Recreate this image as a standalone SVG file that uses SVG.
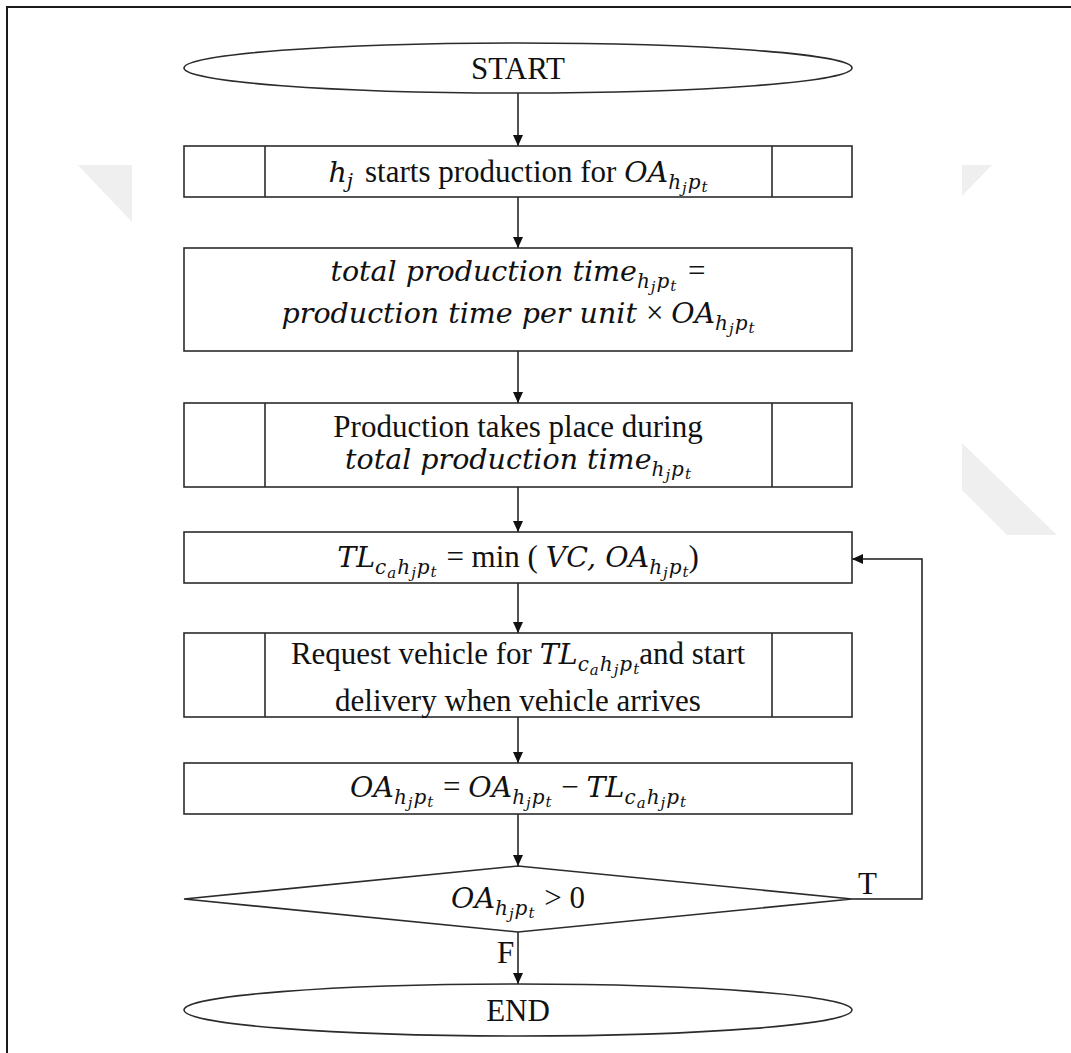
<svg xmlns="http://www.w3.org/2000/svg" width="1071" height="1053" viewBox="0 0 1071 1053">
  <defs>
    <marker id="arrow" markerUnits="userSpaceOnUse" markerWidth="12" markerHeight="10" refX="11" refY="5" orient="auto">
      <path d="M0,0 L11,5 L0,10 z" fill="#111"/>
    </marker>
    <style>
      .frame{fill:none;stroke:#1a1a1a;stroke-width:2}
      .wm{fill:#efefef}
      .shape{fill:#fff;stroke:#2b2b2b;stroke-width:1.6}
      .div{stroke:#2b2b2b;stroke-width:1.6}
      .edge{fill:none;stroke:#1a1a1a;stroke-width:1.5}
      text{font-family:"Liberation Serif","Times New Roman",serif;font-size:31px;fill:#111;text-anchor:middle}
      .lbl{text-anchor:start}
      .mi{font-family:"DejaVu Serif",serif;font-style:italic;font-size:28.5px}
      .s1{font-size:20px}
      .s2{font-size:15px}
    </style>
  </defs>

  <rect width="1071" height="1053" fill="#fff"/>
  <!-- page frame (left and top edges) -->
  <path class="frame" d="M7,1053 V7 H1071"/>

  <!-- faint background marks -->
  <polygon class="wm" points="78,165 132,165 132,222"/>
  <polygon class="wm" points="962,165 992,165 962,196"/>
  <polygon class="wm" points="962,443 1057,535 1007,535 962,490"/>

  <!-- connectors -->
  <g id="connectors">
    <line class="edge" x1="518" y1="93" x2="518" y2="146" marker-end="url(#arrow)"/>
    <line class="edge" x1="518" y1="197" x2="518" y2="248" marker-end="url(#arrow)"/>
    <line class="edge" x1="518" y1="351" x2="518" y2="403" marker-end="url(#arrow)"/>
    <line class="edge" x1="518" y1="487" x2="518" y2="532" marker-end="url(#arrow)"/>
    <line class="edge" x1="518" y1="583" x2="518" y2="633" marker-end="url(#arrow)"/>
    <line class="edge" x1="518" y1="717" x2="518" y2="763" marker-end="url(#arrow)"/>
    <line class="edge" x1="518" y1="814" x2="518" y2="866" marker-end="url(#arrow)"/>
    <line class="edge" x1="518" y1="932" x2="518" y2="984" marker-end="url(#arrow)"/>
    <polyline class="edge" points="852,899 922,899 922,559 852,559" marker-end="url(#arrow)"/>
    <text class="lbl" x="858" y="894">T</text>
    <text class="lbl" x="497" y="963">F</text>
  </g>

  <g id="start">
    <ellipse class="shape" cx="518" cy="68" rx="334" ry="25"/>
    <text x="518" y="79">START</text>
  </g>

  <g id="begin-production">
    <rect class="shape" x="184" y="146" width="668" height="51"/>
    <line class="div" x1="265" y1="146" x2="265" y2="197"/>
    <line class="div" x1="772" y1="146" x2="772" y2="197"/>
    <text x="518" y="182"><tspan class="mi">h</tspan><tspan class="mi s1" dy="6">j</tspan><tspan dx="12" dy="-6">starts production for </tspan><tspan class="mi">OA</tspan><tspan class="mi s1" dy="7">h</tspan><tspan class="mi s2" dx="1" dy="4">j</tspan><tspan class="mi s1" dx="1" dy="-4">p</tspan><tspan class="mi s2" dx="1" dy="3">t</tspan></text>
  </g>

  <g id="production-time">
    <rect class="shape" x="184" y="248" width="668" height="103"/>
    <text x="518" y="281"><tspan class="mi">total production time</tspan><tspan class="mi s1" dy="7">h</tspan><tspan class="mi s2" dx="1" dy="4">j</tspan><tspan class="mi s1" dx="1" dy="-4">p</tspan><tspan class="mi s2" dx="1" dy="3">t</tspan><tspan dx="4" dy="-10"> =</tspan></text>
    <text x="518" y="323"><tspan class="mi">production time per unit </tspan><tspan>× </tspan><tspan class="mi">OA</tspan><tspan class="mi s1" dy="7">h</tspan><tspan class="mi s2" dx="1" dy="4">j</tspan><tspan class="mi s1" dx="1" dy="-4">p</tspan><tspan class="mi s2" dx="1" dy="3">t</tspan></text>
  </g>

  <g id="production">
    <rect class="shape" x="184" y="403" width="668" height="84"/>
    <line class="div" x1="265" y1="403" x2="265" y2="487"/>
    <line class="div" x1="772" y1="403" x2="772" y2="487"/>
    <text x="518" y="437">Production takes place during</text>
    <text x="518" y="469"><tspan class="mi">total production time</tspan><tspan class="mi s1" dy="7">h</tspan><tspan class="mi s2" dx="1" dy="4">j</tspan><tspan class="mi s1" dx="1" dy="-4">p</tspan><tspan class="mi s2" dx="1" dy="3">t</tspan></text>
  </g>

  <g id="truck-load">
    <rect class="shape" x="184" y="532" width="668" height="51"/>
    <text x="518" y="567"><tspan class="mi">TL</tspan><tspan class="mi s1" dy="7">c</tspan><tspan class="mi s2" dx="1" dy="4">a</tspan><tspan class="mi s1" dx="1" dy="-4">h</tspan><tspan class="mi s2" dx="1" dy="4">j</tspan><tspan class="mi s1" dx="1" dy="-4">p</tspan><tspan class="mi s2" dx="1" dy="3">t</tspan><tspan dx="2" dy="-10"> = min ( </tspan><tspan class="mi">VC, OA</tspan><tspan class="mi s1" dy="7">h</tspan><tspan class="mi s2" dx="1" dy="4">j</tspan><tspan class="mi s1" dx="1" dy="-4">p</tspan><tspan class="mi s2" dx="1" dy="3">t</tspan><tspan dy="-10">)</tspan></text>
  </g>

  <g id="request-vehicle">
    <rect class="shape" x="184" y="633" width="668" height="84"/>
    <line class="div" x1="265" y1="633" x2="265" y2="717"/>
    <line class="div" x1="772" y1="633" x2="772" y2="717"/>
    <text x="518" y="664"><tspan>Request vehicle for </tspan><tspan class="mi">TL</tspan><tspan class="mi s1" dy="7">c</tspan><tspan class="mi s2" dx="1" dy="4">a</tspan><tspan class="mi s1" dx="1" dy="-4">h</tspan><tspan class="mi s2" dx="1" dy="4">j</tspan><tspan class="mi s1" dx="1" dy="-4">p</tspan><tspan class="mi s2" dx="1" dy="3">t</tspan><tspan dy="-10">and start</tspan></text>
    <text x="518" y="711">delivery when vehicle arrives</text>
  </g>

  <g id="update-amount">
    <rect class="shape" x="184" y="763" width="668" height="51"/>
    <text x="518" y="797"><tspan class="mi">OA</tspan><tspan class="mi s1" dy="7">h</tspan><tspan class="mi s2" dx="1" dy="4">j</tspan><tspan class="mi s1" dx="1" dy="-4">p</tspan><tspan class="mi s2" dx="1" dy="3">t</tspan><tspan dx="2" dy="-10"> = </tspan><tspan class="mi">OA</tspan><tspan class="mi s1" dy="7">h</tspan><tspan class="mi s2" dx="1" dy="4">j</tspan><tspan class="mi s1" dx="1" dy="-4">p</tspan><tspan class="mi s2" dx="1" dy="3">t</tspan><tspan dx="2" dy="-10"> − </tspan><tspan class="mi">TL</tspan><tspan class="mi s1" dy="7">c</tspan><tspan class="mi s2" dx="1" dy="4">a</tspan><tspan class="mi s1" dx="1" dy="-4">h</tspan><tspan class="mi s2" dx="1" dy="4">j</tspan><tspan class="mi s1" dx="1" dy="-4">p</tspan><tspan class="mi s2" dx="1" dy="3">t</tspan></text>
  </g>

  <g id="check-remaining">
    <polygon class="shape" points="184,899 518,866 852,899 518,932"/>
    <text x="518" y="908"><tspan class="mi">OA</tspan><tspan class="mi s1" dy="7">h</tspan><tspan class="mi s2" dx="1" dy="4">j</tspan><tspan class="mi s1" dx="1" dy="-4">p</tspan><tspan class="mi s2" dx="1" dy="3">t</tspan><tspan dx="2" dy="-10"> &gt; 0</tspan></text>
  </g>

  <g id="end">
    <ellipse class="shape" cx="518" cy="1010" rx="334" ry="26"/>
    <text x="518" y="1021">END</text>
  </g>
</svg>
